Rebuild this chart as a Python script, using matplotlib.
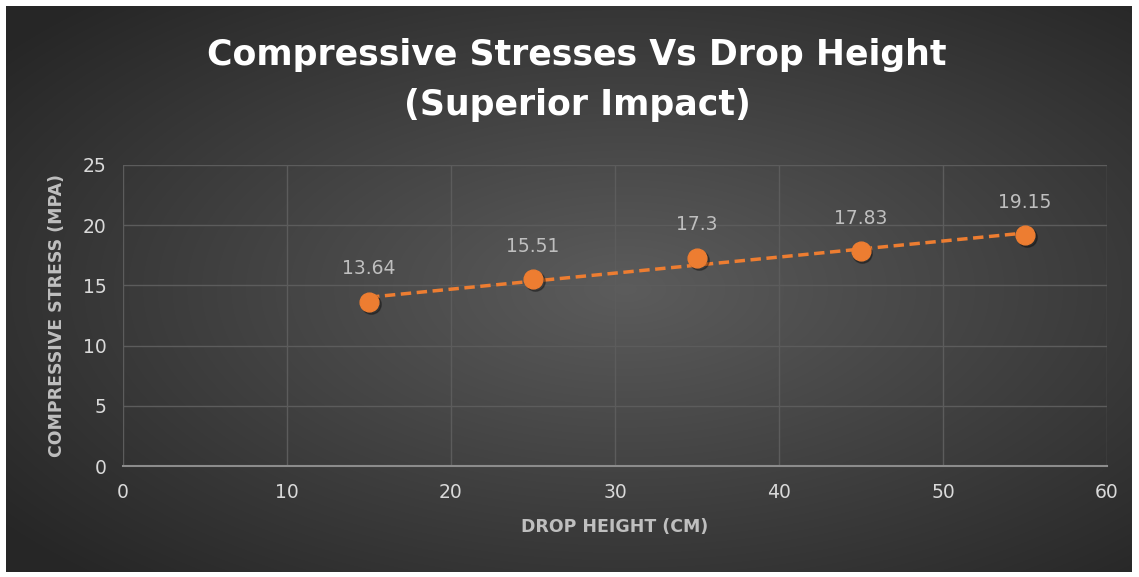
import numpy as np
import matplotlib
matplotlib.use('Agg')
import matplotlib.pyplot as plt
import matplotlib.transforms as mtransforms

# data
drop_height = [15, 25, 35, 45, 55]
stress = [13.64, 15.51, 17.30, 17.83, 19.15]
point_labels = ['13.64', '15.51', '17.3', '17.83', '19.15']

ORANGE = '#ED7D31'
TICK_GREY = '#d9d9d9'
LABEL_GREY = '#bfbfbf'
GRID = '#5c5c5c'

W, H = 1139, 577
fig = plt.figure(figsize=(W / 100, H / 100), dpi=100)
fig.patch.set_facecolor('white')

# dark radial-gradient chart background, inset a few pixels from the edge
bg = fig.add_axes([6 / W, 5 / H, (W - 13) / W, (H - 11) / H])
yy, xx = np.mgrid[0:1:300j, 0:1:600j]
r = np.sqrt(((xx - 0.55) / 0.8) ** 2 + ((yy - 0.5) / 0.8) ** 2)
shade = np.clip(0.36 - 0.24 * r, 0.15, 0.36)
bg.imshow(np.dstack([shade] * 3), aspect='auto', extent=[0, 1, 0, 1],
          interpolation='bilinear')
bg.set_axis_off()

ax = fig.add_axes([123 / W, (H - 466) / H, (1107 - 123) / W, (466 - 165) / H])
ax.patch.set_alpha(0)

ax.set_xlim(0, 60)
ax.set_ylim(0, 25)
ax.set_xticks(range(0, 61, 10))
ax.set_yticks(range(0, 26, 5))
ax.grid(True, color=GRID, linewidth=1)
ax.set_axisbelow(True)
for side in ['top', 'right', 'left']:
    ax.spines[side].set_visible(False)
ax.spines['bottom'].set_color('#8c8c8c')
ax.spines['bottom'].set_linewidth(1.5)
ax.tick_params(length=0, colors=TICK_GREY, labelsize=13.5, pad=12)

# linear trendline
k, b = np.polyfit(drop_height, stress, 1)
tx = np.array([drop_height[0], drop_height[-1]])
ax.plot(tx, k * tx + b, color=ORANGE, linewidth=2.5, linestyle=(0, (3, 1.6)), zorder=3)

# soft shadow, then markers
ax.plot(drop_height, stress, 'o', color='black', alpha=0.3, markersize=14,
        transform=ax.transData + mtransforms.Affine2D().translate(1.5, -2),
        zorder=3)
ax.plot(drop_height, stress, 'o', color=ORANGE, markersize=13.5, zorder=4)

for x, y, t in zip(drop_height, stress, point_labels):
    ax.annotate(t, (x, y), xytext=(0, 17), textcoords='offset points',
                ha='center', va='bottom', color=LABEL_GREY, fontsize=13.5)

ax.set_xlabel('DROP HEIGHT (CM)', color=LABEL_GREY, fontsize=12.5,
              fontweight='bold', labelpad=12)
ax.set_ylabel('COMPRESSIVE STRESS (MPA)', color=LABEL_GREY, fontsize=12.5,
              fontweight='bold', labelpad=12)

fig.text(577 / W, 1 - 55 / H, 'Compressive Stresses Vs Drop Height',
         ha='center', va='center', color='white', fontsize=25, fontweight='bold')
fig.text(577 / W, 1 - 105 / H, '(Superior Impact)',
         ha='center', va='center', color='white', fontsize=25, fontweight='bold')

fig.savefig('out.png', dpi=100, facecolor=fig.get_facecolor())
